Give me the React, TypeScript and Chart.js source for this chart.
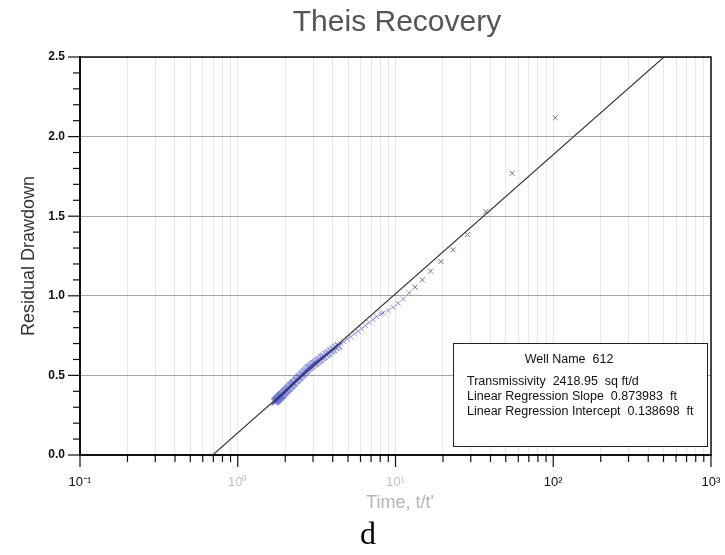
import React, { useEffect, useRef } from 'react';
import { Chart, registerables } from 'chart.js';

Chart.register(...registerables);

// ---- Data ----
// late-recovery dense points (blue)
const blueT = [1.72, 1.74, 1.76, 1.78, 1.80, 1.82, 1.84, 1.86, 1.88, 1.90, 1.93, 1.96, 1.99, 2.02, 2.05, 2.08, 2.12, 2.16, 2.20, 2.24, 2.28, 2.33, 2.38, 2.43, 2.48, 2.54, 2.60, 2.66, 2.73, 2.80, 2.87, 2.95, 3.03, 3.12, 3.21, 3.31, 3.41, 3.52, 3.64, 3.76, 3.89, 4.03, 4.18, 4.34];
const blueY = [0.334, 0.341, 0.344, 0.350, 0.352, 0.360, 0.362, 0.369, 0.371, 0.378, 0.382, 0.391, 0.396, 0.404, 0.408, 0.417, 0.423, 0.433, 0.439, 0.449, 0.454, 0.466, 0.473, 0.484, 0.491, 0.503, 0.511, 0.523, 0.532, 0.545, 0.553, 0.562, 0.573, 0.580, 0.591, 0.599, 0.611, 0.619, 0.632, 0.640, 0.653, 0.663, 0.676, 0.686];
// mid points (purple)
const purpleT = [4.5, 4.7, 4.95, 5.2, 5.5, 5.8, 6.1, 6.45, 6.8, 7.2, 7.6, 8.1, 8.34, 8.98, 9.66, 10.4, 11.2, 12.2];
const purpleY = [0.698, 0.712, 0.728, 0.743, 0.761, 0.777, 0.794, 0.813, 0.832, 0.851, 0.870, 0.887, 0.892, 0.908, 0.928, 0.953, 0.981, 1.019];
// early-recovery points (gray)
const grayT = [13.3, 14.8, 16.7, 19.4, 23.2, 28.6, 37.4, 55, 103];
const grayY = [1.054, 1.100, 1.155, 1.215, 1.289, 1.385, 1.529, 1.770, 2.118];

// regression
const regSlope = 0.873983;
const regIntercept = 0.138698;

// axes
const xMin = 0.1;
const xMax = 1000;
const xDecades = [0.1, 1, 10, 100, 1000];
const xDecadeLabels = ['10⁻¹', '10⁰', '10¹', '10²', '10³'];
const xFadedLabels = [1, 10];
const yMin = 0;
const yMax = 2.5;
const yMinorStep = 0.1;
const yMajorStep = 0.5;

const titleText = 'Theis Recovery';
const xTitle = "Time, t/t'";
const yTitle = 'Residual Drawdown';
const captionText = 'd';
const infoTitle = 'Well Name  612';
const infoLines = [
  'Transmissivity  2418.95  sq ft/d',
  'Linear Regression Slope  0.873983  ft',
  'Linear Regression Intercept  0.138698  ft',
];

const SANS = '"Liberation Sans", Arial, sans-serif';

function isDecade(v: number) {
  const l = Math.log10(v);
  return Math.abs(l - Math.round(l)) < 1e-6;
}

const decorPlugin = {
  id: 'decor',
  afterDatasetsDraw(chart: any) {
    const { ctx, chartArea: a, scales } = chart;
    const xs = scales.x;
    const ys = scales.y;
    ctx.save();
    // frame top/right
    ctx.strokeStyle = '#111';
    ctx.lineWidth = 1.5;
    ctx.beginPath();
    ctx.moveTo(a.left, a.top);
    ctx.lineTo(a.right, a.top);
    ctx.lineTo(a.right, a.bottom);
    ctx.stroke();

    // tick marks x
    ctx.lineWidth = 1.2;
    ctx.strokeStyle = '#111';
    xs.ticks.forEach((t: any) => {
      const px = xs.getPixelForValue(t.value);
      const len = isDecade(t.value) ? 12 : 7;
      ctx.beginPath();
      ctx.moveTo(px, a.bottom);
      ctx.lineTo(px, a.bottom + len);
      ctx.stroke();
    });
    // tick marks y
    ys.ticks.forEach((t: any) => {
      const py = ys.getPixelForValue(t.value);
      const major = Math.abs(t.value / yMajorStep - Math.round(t.value / yMajorStep)) < 1e-6;
      const len = major ? 12 : 7;
      ctx.beginPath();
      ctx.moveTo(a.left - len, py);
      ctx.lineTo(a.left, py);
      ctx.stroke();
    });

    // info box
    const bx = 453, by = 343, bw = 254, bh = 103;
    ctx.fillStyle = '#fff';
    ctx.fillRect(bx, by, bw, bh);
    ctx.strokeStyle = '#222';
    ctx.lineWidth = 1;
    ctx.strokeRect(bx + 0.5, by + 0.5, bw, bh);
    ctx.fillStyle = '#111';
    ctx.font = `12.5px ${SANS}`;
    ctx.textAlign = 'center';
    ctx.textBaseline = 'middle';
    ctx.fillText(infoTitle, 569, 360);
    ctx.textAlign = 'left';
    infoLines.forEach((s, i) => {
      ctx.fillText(s, 467, 382 + i * 15);
    });

    // titles
    ctx.fillStyle = '#555';
    ctx.font = `30px ${SANS}`;
    ctx.textAlign = 'center';
    ctx.textBaseline = 'middle';
    ctx.fillText(titleText, 397, 23);

    ctx.fillStyle = '#333';
    ctx.font = `18px ${SANS}`;
    ctx.save();
    ctx.translate(29, 256);
    ctx.rotate(-Math.PI / 2);
    ctx.fillText(yTitle, 0, 0);
    ctx.restore();

    ctx.fillStyle = '#b5b5b5';
    ctx.font = `18px ${SANS}`;
    ctx.fillText(xTitle, 400, 503);

    ctx.fillStyle = '#000';
    ctx.font = `32px "Liberation Serif", "DejaVu Serif", serif`;
    ctx.fillText(captionText, 368, 536);
    ctx.restore();
  },
};

export default function App() {
  const ref = useRef<HTMLCanvasElement | null>(null);
  useEffect(() => {
    if (!ref.current) return;
    const lineStart = Math.pow(10, (yMin - regIntercept) / regSlope);
    const lineEnd = Math.pow(10, (yMax - regIntercept) / regSlope);
    const mk = (ts: number[], ys: number[]) => ts.map((t, i) => ({ x: t, y: ys[i] }));
    const chart = new Chart(ref.current, {
      type: 'scatter',
      data: {
        datasets: [
          {
            label: 'Regression',
            data: [
              { x: lineStart, y: regIntercept + regSlope * Math.log10(lineStart) },
              { x: lineEnd, y: regIntercept + regSlope * Math.log10(lineEnd) },
            ],
            showLine: true,
            borderColor: '#333',
            borderWidth: 1.1,
            pointRadius: 0,
          },
          {
            label: 'late',
            data: mk(blueT, blueY),
            pointStyle: 'crossRot',
            pointRadius: 5,
            pointBorderWidth: 2,
            borderColor: 'rgba(55,65,195,0.5)',
            backgroundColor: 'rgba(55,65,195,0.5)',
          },
          {
            label: 'mid',
            data: mk(purpleT, purpleY),
            pointStyle: 'crossRot',
            pointRadius: 3.5,
            pointBorderWidth: 1,
            borderColor: 'rgba(140,120,210,0.85)',
            backgroundColor: 'rgba(140,120,210,0.85)',
          },
          {
            label: 'early',
            data: mk(grayT, grayY),
            pointStyle: 'crossRot',
            pointRadius: 3.5,
            pointBorderWidth: 1,
            borderColor: '#777',
            backgroundColor: '#777',
          },
        ],
      },
      options: {
        animation: false,
        responsive: true,
        maintainAspectRatio: false,
        layout: { padding: { top: 57, right: 14, left: 0, bottom: 0 } },
        plugins: { legend: { display: false }, tooltip: { enabled: false }, title: { display: false } },
        scales: {
          x: {
            type: 'logarithmic',
            min: xMin,
            max: xMax,
            afterBuildTicks: (scale: any) => {
              const ticks: any[] = [];
              for (let d = 0; d < xDecades.length - 1; d++) {
                for (let k = 1; k <= 9; k++) ticks.push({ value: xDecades[d] * k });
              }
              ticks.push({ value: xDecades[xDecades.length - 1] });
              scale.ticks = ticks;
            },
            afterFit: (scale: any) => {
              scale.height = 100;
              scale.paddingLeft = 0;
              scale.paddingRight = 0;
            },
            border: { display: true, color: '#111', width: 2 },
            grid: { color: 'rgba(0,0,0,0.09)', drawTicks: false, lineWidth: 1 },
            ticks: {
              autoSkip: false,
              maxRotation: 0,
              padding: 20,
              font: { family: SANS, size: 13 },
              color: (c: any) => (xFadedLabels.some((v) => Math.abs(v - c.tick.value) < 1e-9) ? '#c0c0c0' : '#111'),
              callback: (v: any) => {
                const i = xDecades.findIndex((d) => Math.abs(d - Number(v)) < 1e-9 * d);
                return i >= 0 ? xDecadeLabels[i] : '';
              },
            },
          },
          y: {
            min: yMin,
            max: yMax,
            afterFit: (scale: any) => {
              scale.width = 80;
              scale.paddingTop = 0;
              scale.paddingBottom = 0;
            },
            border: { display: true, color: '#111', width: 2 },
            grid: {
              drawTicks: false,
              color: (c: any) => {
                const v = c.tick.value;
                const major = Math.abs(v / yMajorStep - Math.round(v / yMajorStep)) < 1e-6;
                return major ? 'rgba(0,0,0,0.35)' : 'rgba(0,0,0,0)';
              },
            },
            ticks: {
              stepSize: yMinorStep,
              autoSkip: false,
              padding: 15,
              color: '#111',
              font: { family: SANS, size: 12, weight: 'bold' },
              callback: (v: any) => {
                const n = Number(v);
                const major = Math.abs(n / yMajorStep - Math.round(n / yMajorStep)) < 1e-6;
                return major ? n.toFixed(1) : '';
              },
            },
          },
        },
      },
      plugins: [decorPlugin],
    });
    return () => chart.destroy();
  }, []);
  return (
    <div style={{ position: 'fixed', left: 0, top: 0, width: 725, height: 555, background: '#fff' }}>
      <canvas ref={ref} />
    </div>
  );
}
